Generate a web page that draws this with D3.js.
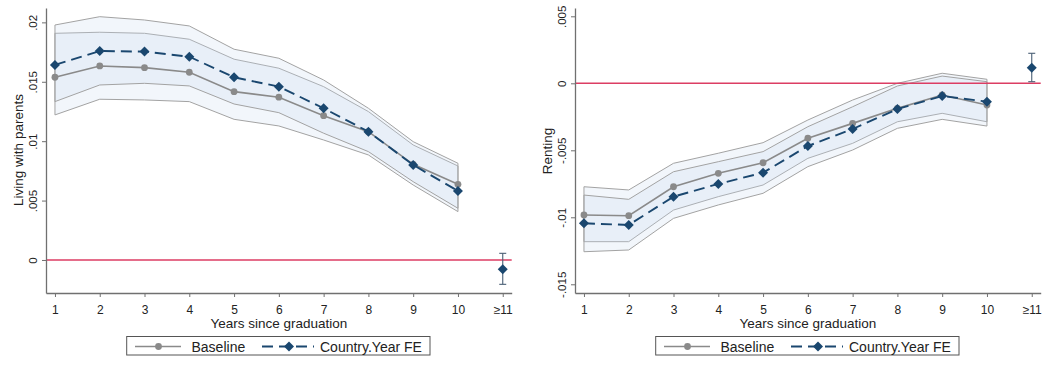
<!DOCTYPE html>
<html>
<head>
<meta charset="utf-8">
<script src="https://cdn.jsdelivr.net/npm/d3@7"></script>
<style>
  html, body { margin: 0; padding: 0; background: #ffffff; }
  svg { display: block; font-family: "Liberation Sans", Arial, Helvetica, sans-serif; }
</style>
</head>
<body>
<svg id="chart" width="1042" height="365"></svg>
<script>
// ---------- data ----------
const years = [1, 2, 3, 4, 5, 6, 7, 8, 9, 10];
const xTickValues = [1, 2, 3, 4, 5, 6, 7, 8, 9, 10, 11];
const xTickLabels = ["1", "2", "3", "4", "5", "6", "7", "8", "9", "10", "≥11"];

// Living with parents
const livBaseline   = [0.01538, 0.01633, 0.01619, 0.01580, 0.01417, 0.01370, 0.01215, 0.01080, 0.00805, 0.00637];
const livBaseLo     = [0.01221, 0.01353, 0.01347, 0.01333, 0.01184, 0.01128, 0.01010, 0.00884, 0.00631, 0.00407];
const livBaseHi     = [0.01908, 0.01917, 0.01908, 0.01858, 0.01690, 0.01614, 0.01459, 0.01249, 0.00968, 0.00791];
const livFE         = [0.01642, 0.01759, 0.01754, 0.01711, 0.01538, 0.01459, 0.01277, 0.01080, 0.00800, 0.00581];
const livFELo       = [0.01333, 0.01473, 0.01487, 0.01465, 0.01313, 0.01240, 0.01067, 0.00912, 0.00659, 0.00435];
const livFEHi       = [0.01978, 0.02048, 0.02020, 0.01970, 0.01774, 0.01698, 0.01515, 0.01277, 0.00996, 0.00814];
const livFE11       = [-0.00078, -0.00205, 0.00056]; // estimate, low, high
const livTicks      = [0, 0.005, 0.01, 0.015, 0.02];
const livTickLabels = ["0", ".005", ".01", ".015", ".02"];

// Renting
const rentBaseline   = [-0.00983, -0.00988, -0.00772, -0.00672, -0.00593, -0.00410, -0.00299, -0.00187, -0.00087, -0.00162];
const rentBaseLo     = [-0.01182, -0.01182, -0.00946, -0.00846, -0.00759, -0.00560, -0.00448, -0.00287, -0.00224, -0.00287];
const rentBaseHi     = [-0.00772, -0.00796, -0.00597, -0.00522, -0.00443, -0.00274, -0.00125, 0.00000, 0.00075, 0.00030];
const rentFE         = [-0.01045, -0.01057, -0.00846, -0.00751, -0.00667, -0.00468, -0.00341, -0.00192, -0.00095, -0.00137];
const rentFELo       = [-0.01257, -0.01244, -0.01008, -0.00908, -0.00821, -0.00622, -0.00498, -0.00336, -0.00269, -0.00319];
const rentFEHi       = [-0.00834, -0.00866, -0.00660, -0.00585, -0.00510, -0.00324, -0.00175, -0.00020, 0.00054, 0.00012];
const rentFE11       = [0.00116, 0.00012, 0.00224];
const rentTicks      = [-0.015, -0.01, -0.005, 0, 0.005];
const rentTickLabels = ["-.015", "-.01", "-.005", "0", ".005"];

const legendLabels = ["Baseline", "Country.Year FE"];

// ---------- styles ----------
const C_BASE = "#8a8a8a";
const C_FE = "#1a476f";
const C_ZERO = "#dc3d63";
const C_AXIS = "#707070";
const C_BAND_FILL = "#c9dbee";
const C_BAND_LINE = "#a3a3a3";

const svg = d3.select("#chart");

function diamondPath(r) {
  return `M0,${-r}L${r},0L0,${r}L${-r},0Z`;
}

function drawPanel(cfg) {
  const off = cfg.offset;
  const g = svg.append("g");
  const x = d3.scaleLinear().domain([0.8, 11.2]).range([46 + off, 511.7 + off]);
  const y = d3.scaleLinear().domain(cfg.yDomain).range([293, 8]);

  // bands
  const bands = [
    { lo: cfg.baseLo, hi: cfg.baseHi },
    { lo: cfg.feLo, hi: cfg.feHi }
  ];
  const area = d3.area()
    .x((d) => x(d.x)).y0((d) => y(d.lo)).y1((d) => y(d.hi));
  bands.forEach((b) => {
    const data = years.map((yr, i) => ({ x: yr, lo: b.lo[i], hi: b.hi[i] }));
    g.append("path")
      .attr("d", area(data))
      .attr("fill", C_BAND_FILL)
      .attr("fill-opacity", 0.24)
      .attr("stroke", C_BAND_LINE)
      .attr("stroke-width", 1)
      .attr("stroke-linejoin", "round");
  });

  // zero line
  g.append("line")
    .attr("x1", x.range()[0]).attr("x2", x.range()[1])
    .attr("y1", y(0)).attr("y2", y(0))
    .attr("stroke", C_ZERO).attr("stroke-width", 1.6);

  // axes
  const yAxis = d3.axisLeft(y)
    .tickValues(cfg.ticks)
    .tickFormat((d, i) => cfg.tickLabels[i])
    .tickSize(4).tickSizeOuter(0);
  const ya = g.append("g").attr("transform", `translate(${46 + off},0)`).call(yAxis);
  ya.select(".domain").attr("stroke", C_AXIS).attr("stroke-width", 1.3);
  ya.selectAll(".tick line").attr("stroke", C_AXIS).attr("stroke-width", 1);
  ya.selectAll(".tick text")
    .attr("transform", "rotate(-90)")
    .attr("x", 0).attr("y", -9).attr("dy", 0)
    .attr("text-anchor", "middle")
    .attr("font-size", "11.5px")
    .attr("fill", "#222");

  const xAxis = d3.axisBottom(x)
    .tickValues(xTickValues)
    .tickFormat((d, i) => xTickLabels[i])
    .tickSize(4).tickSizeOuter(0);
  const xa = g.append("g").attr("transform", `translate(0,293)`).call(xAxis);
  xa.select(".domain").attr("stroke", C_AXIS).attr("stroke-width", 1.3);
  xa.selectAll(".tick line").attr("stroke", C_AXIS).attr("stroke-width", 1);
  xa.selectAll(".tick text")
    .attr("y", 21).attr("dy", 0)
    .attr("font-size", "12px")
    .attr("fill", "#222");

  // axis titles
  g.append("text")
    .attr("x", (x.range()[0] + x.range()[1]) / 2).attr("y", 328)
    .attr("text-anchor", "middle").attr("font-size", "13.5px").attr("fill", "#222")
    .text("Years since graduation");
  g.append("text")
    .attr("transform", `translate(${23 + off},${cfg.yTitleY}) rotate(-90)`)
    .attr("text-anchor", "middle").attr("font-size", "13.5px").attr("fill", "#222")
    .text(cfg.yTitle);

  // series
  const line = d3.line().x((d) => x(d.x)).y((d) => y(d.v));
  const baseData = years.map((yr, i) => ({ x: yr, v: cfg.base[i] }));
  const feData = years.map((yr, i) => ({ x: yr, v: cfg.fe[i] }));

  g.append("path").attr("d", line(baseData))
    .attr("fill", "none").attr("stroke", C_BASE).attr("stroke-width", 1.6);
  g.selectAll(".bpt").data(baseData).enter().append("circle")
    .attr("cx", (d) => x(d.x)).attr("cy", (d) => y(d.v)).attr("r", 3.4)
    .attr("fill", C_BASE);

  g.append("path").attr("d", line(feData))
    .attr("fill", "none").attr("stroke", C_FE).attr("stroke-width", 1.9)
    .attr("stroke-dasharray", "11,6");
  g.selectAll(".fpt").data(feData).enter().append("path")
    .attr("transform", (d) => `translate(${x(d.x)},${y(d.v)})`)
    .attr("d", diamondPath(5)).attr("fill", C_FE);

  // >=11 estimate with error bar
  const e = cfg.fe11;
  const ex = x(11);
  g.append("line").attr("x1", ex).attr("x2", ex).attr("y1", y(e[1])).attr("y2", y(e[2]))
    .attr("stroke", "#4a5f75").attr("stroke-width", 1.1);
  [e[1], e[2]].forEach((v) => {
    g.append("line").attr("x1", ex - 3.5).attr("x2", ex + 3.5).attr("y1", y(v)).attr("y2", y(v))
      .attr("stroke", "#4a5f75").attr("stroke-width", 1.1);
  });
  g.append("path").attr("transform", `translate(${ex},${y(e[0])})`)
    .attr("d", diamondPath(5)).attr("fill", C_FE);

  // legend
  const lg = g.append("g");
  lg.append("rect").attr("x", 126.7 + off).attr("y", 336.5).attr("width", 303.3).attr("height", 18.5)
    .attr("fill", "#fff").attr("stroke", "#555").attr("stroke-width", 1);
  const ly = 346.5;
  lg.append("line").attr("x1", 135 + off).attr("x2", 181 + off).attr("y1", ly).attr("y2", ly)
    .attr("stroke", C_BASE).attr("stroke-width", 1.6);
  lg.append("circle").attr("cx", 158.5 + off).attr("cy", ly).attr("r", 3.4).attr("fill", C_BASE);
  lg.append("text").attr("x", 191.5 + off).attr("y", 351.5).attr("font-size", "14px").attr("fill", "#222")
    .text(legendLabels[0]);
  lg.append("line").attr("x1", 262 + off).attr("x2", 314 + off).attr("y1", ly).attr("y2", ly)
    .attr("stroke", C_FE).attr("stroke-width", 1.9).attr("stroke-dasharray", "11,6");
  lg.append("path").attr("transform", `translate(${289 + off},${ly})`)
    .attr("d", diamondPath(5)).attr("fill", C_FE);
  lg.append("text").attr("x", 320 + off).attr("y", 351.5).attr("font-size", "14px").attr("fill", "#222")
    .text(legendLabels[1]);
}

drawPanel({
  offset: 0,
  yDomain: [-0.00278, 0.02121],
  ticks: livTicks, tickLabels: livTickLabels,
  yTitle: "Living with parents", yTitleY: 150,
  base: livBaseline, baseLo: livBaseLo, baseHi: livBaseHi,
  fe: livFE, feLo: livFELo, feHi: livFEHi, fe11: livFE11
});

drawPanel({
  offset: 529,
  yDomain: [-0.01565, 0.00562],
  ticks: rentTicks, tickLabels: rentTickLabels,
  yTitle: "Renting", yTitleY: 151,
  base: rentBaseline, baseLo: rentBaseLo, baseHi: rentBaseHi,
  fe: rentFE, feLo: rentFELo, feHi: rentFEHi, fe11: rentFE11
});
</script>
</body>
</html>
